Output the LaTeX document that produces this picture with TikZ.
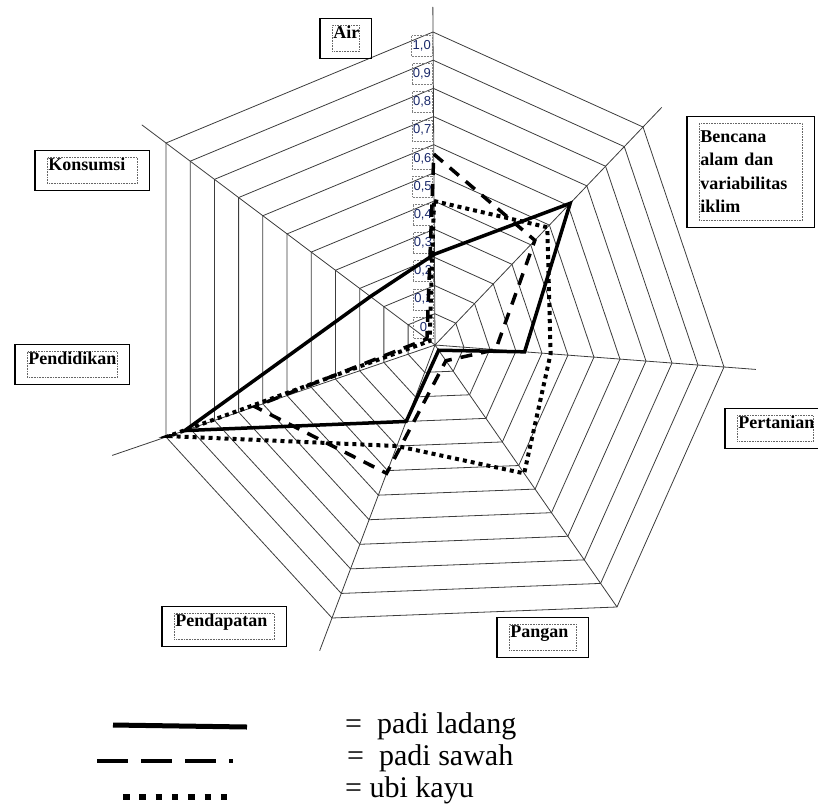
\documentclass[tikz,border=0pt]{standalone}
\usepackage{fontspec}
\setmainfont{Liberation Serif}
\newfontfamily\axisfont{Liberation Sans}
\usepackage{tikz}
\usetikzlibrary{calc, fit}

\definecolor{webgray}{RGB}{60,60,60}
\definecolor{tickblue}{RGB}{25,40,105}

\begin{document}
\begin{tikzpicture}[
    x = 1pt, y = -1pt,
    web/.style = {draw=webgray, line width=0.8pt},
    ladang/.style = {line width=3.5pt},
    sawah/.style = {line width=3.5pt, dash pattern=on 12pt off 9pt},
    ubi/.style = {line width=4pt, dash pattern=on 4pt off 4pt},
    tag/.style = {draw=black!60, densely dotted, line width=0.6pt, inner sep=1pt,
      anchor=north west, align=left, font=\bfseries\fontsize{18}{23.5}\selectfont},
    onetag/.style = {tag, text height=12.5pt, text depth=11.5pt},
    tagbox/.style = {draw, line width=1.2pt, inner xsep=12pt, inner ysep=6.5pt},
    ticklabel/.style = {draw=black!50, densely dotted, line width=0.5pt, inner sep=1pt,
      minimum width=20pt, minimum height=21pt, anchor=north east, text=tickblue,
      font=\axisfont\fontsize{13}{13}\selectfont},
    legendtext/.style = {anchor=base west, inner sep=0pt, font=\fontsize{30}{32}\selectfont}
    ]
    \useasboundingbox (0,0) rectangle (818,803);

    % axes of the web
    \coordinate (c) at (435,345);
    \coordinate (air) at (433,32);
    \coordinate (bencana) at (643,127);
    \coordinate (pertanian) at (724,367);
    \coordinate (pangan) at (617,607);
    \coordinate (pendapatan) at (332,618);
    \coordinate (pendidikan) at (166,437);
    \coordinate (konsumsi) at (166,143);

    \foreach \k in {0,...,10} {
      \pgfmathsetmacro\r{0.1+0.09*\k}
      \draw[web] ($(c)!\r!(air)$) -- ($(c)!\r!(bencana)$) -- ($(c)!\r!(pertanian)$)
        -- ($(c)!\r!(pangan)$) -- ($(c)!\r!(pendapatan)$) -- ($(c)!\r!(pendidikan)$)
        -- ($(c)!\r!(konsumsi)$) -- cycle;
    }
    \foreach \a/\f in {air/1.08, bencana/1.09, pertanian/1.11, pangan/1,
      pendapatan/1.12, pendidikan/1.2, konsumsi/1.09}
      \draw[web] (c) -- ($(c)!\f!(\a)$);

    % scale on the Air axis
    \foreach \k/\t in {0/0, 1/{0,1}, 2/{0,2}, 3/{0,3}, 4/{0,4}, 5/{0,5},
      6/{0,6}, 7/{0,7}, 8/{0,8}, 9/{0,9}, 10/{1,0}} {
      \pgfmathsetmacro\r{0.1+0.09*\k}
      \node[ticklabel, xshift=-1pt, yshift=-3pt] (tick\k) at ($(c)!\r!(air)$) {\t};
    }

    % series
    \draw[ubi] ($(c)!0.46!(air)$) -- ($(c)!0.54!(bencana)$) -- ($(c)!0.40!(pertanian)$)
      -- ($(c)!0.49!(pangan)$) -- ($(c)!0.37!(pendapatan)$) -- ($(c)!0.99!(pendidikan)$)
      -- ($(c)!0.02!(konsumsi)$) -- cycle;
    \draw[sawah] ($(c)!0.61!(air)$) -- ($(c)!0.48!(bencana)$) -- ($(c)!0.21!(pertanian)$)
      -- ($(c)!0.06!(pangan)$) -- ($(c)!0.47!(pendapatan)$) -- ($(c)!0.67!(pendidikan)$)
      -- ($(c)!0.03!(konsumsi)$) -- cycle;
    \draw[ladang] ($(c)!0.29!(air)$) -- ($(c)!0.65!(bencana)$) -- ($(c)!0.31!(pertanian)$)
      -- ($(c)!0.02!(pangan)$) -- ($(c)!0.28!(pendapatan)$) -- ($(c)!0.93!(pendidikan)$)
      -- ($(c)!0.24!(konsumsi)$) -- cycle;

    % axis names
    \node[onetag, text width=25pt] (air-tag) at (332,25) {Air};
    \node[tag, text width=101pt, minimum height=97pt] (bencana-tag) at (699,123)
      {Bencana\\alam dan\\variabilitas\\iklim};
    \node[onetag, text width=74pt] (pertanian-tag) at (737,415) {Pertanian};
    \node[onetag, text width=65pt] (pangan-tag) at (509,624) {Pangan};
    \node[onetag, text width=98pt] (pendapatan-tag) at (174,613) {Pendapatan};
    \node[onetag, text width=88pt] (pendidikan-tag) at (27,351) {Pendidikan};
    \node[onetag, text width=88pt] (konsumsi-tag) at (47,157) {Konsumsi};
    \foreach \n in {air, bencana, pertanian, pangan, pendapatan, pendidikan, konsumsi}
      \node[tagbox, fit=(\n-tag)] (\n-box) {};

    % legend
    \draw[ladang, line width=5pt] (113,725) -- (247,727);
    \draw[sawah, dash pattern=on 31pt off 13pt] (97,761) -- (233,761);
    \draw[ubi, line width=6.5pt, dash pattern=on 6.5pt off 9.8pt] (123,797) -- (227,797);
    \node[legendtext] (ladang-text) at (345,733) {=\ \ padi ladang};
    \node[legendtext] (sawah-text) at (347,765) {=\ \ padi sawah};
    \node[legendtext] (ubi-text) at (345,797) {= ubi kayu};
\end{tikzpicture}
\end{document}
